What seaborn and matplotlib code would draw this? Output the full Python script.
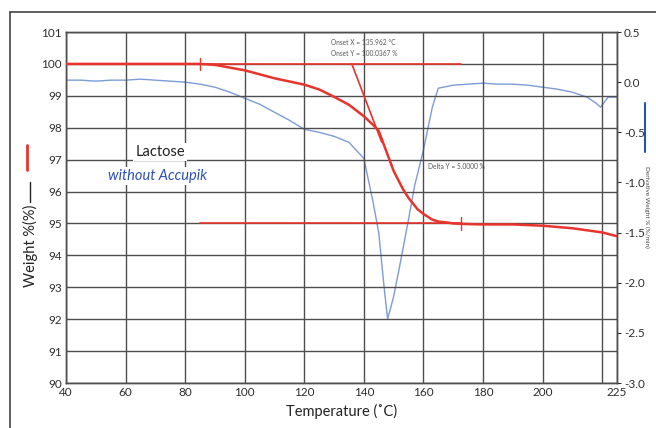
import matplotlib
matplotlib.use("Agg")
import matplotlib.pyplot as plt
import pandas as pd
import seaborn as sns
from matplotlib.lines import Line2D

# weight curve (left axis)
weight_temp = [40, 60, 80, 85, 90, 100, 110, 120, 125, 130, 135, 140, 143, 145, 147, 150,
               153, 155, 158, 160, 163, 165, 168, 170, 175, 180, 190, 200, 210, 220, 225]
weight_pct = [100.0, 100.0, 100.0, 100.0, 99.97, 99.8, 99.55, 99.35, 99.2, 98.97, 98.72, 98.36,
              98.1, 97.9, 97.4, 96.65, 96.1, 95.8, 95.45, 95.3, 95.12, 95.06, 95.03, 95.0,
              94.98, 94.97, 94.97, 94.93, 94.85, 94.72, 94.6]

# derivative curve (right axis)
deriv_temp = [40, 45, 50, 55, 60, 65, 70, 75, 80, 85, 90, 95, 100, 105, 110, 115, 120, 125,
              130, 135, 140, 143, 145, 147, 148, 150, 152, 155, 157, 160, 163, 165, 170, 175,
              180, 185, 190, 195, 200, 205, 210, 215, 218, 219.5, 222, 225]
deriv_val = [0.02, 0.02, 0.01, 0.02, 0.02, 0.03, 0.02, 0.01, 0.0, -0.02, -0.05, -0.1, -0.16,
             -0.22, -0.3, -0.38, -0.47, -0.5, -0.54, -0.6, -0.76, -1.18, -1.5, -2.1, -2.36,
             -2.14, -1.84, -1.37, -1.04, -0.68, -0.25, -0.06, -0.03, -0.02, -0.01, -0.02, -0.02,
             -0.03, -0.05, -0.07, -0.1, -0.15, -0.21, -0.25, -0.15, -0.15]

# onset construction lines
onset_x = 135.962
upper_base_temp = [85, 172.6]
upper_base_val = [100.0, 100.0]
lower_base_temp = [85, 172.6]
lower_base_val = [95.0, 95.0]
tangent_temp = [onset_x, 146.0]
tangent_val = [100.0, 97.55]

x_ticks = [40, 60, 80, 100, 120, 140, 160, 180, 200, 220, 225]
x_labels = ["40", "60", "80", "100", "120", "140", "160", "180", "200", "", "225"]
left_ticks = list(range(90, 102))
right_ticks = [0.5, 0.0, -0.5, -1.0, -1.5, -2.0, -2.5, -3.0]

RED = "#e8342c"
BLUE = "#7d9bd6"
DARK_BLUE = "#2b50b3"
GRID = "#4e4e4e"
TXT = "#2e2e2e"

sns.set_theme(style="whitegrid")
plt.rcParams["font.family"] = ["Lato", "DejaVu Sans"]

fig = plt.figure(figsize=(6.56, 4.28), dpi=100)
ax = fig.add_axes([0.1006, 0.1051, 0.8399, 0.8201])
ax2 = ax.twinx()

w_df = pd.DataFrame({"temp": weight_temp, "weight": weight_pct})
d_df = pd.DataFrame({"temp": deriv_temp, "deriv": deriv_val})

sns.lineplot(data=d_df, x="temp", y="deriv", color=BLUE, linewidth=1.0, ax=ax2, zorder=3)

sns.lineplot(x=upper_base_temp, y=upper_base_val, color=RED, linewidth=1.2, ax=ax, zorder=3)
sns.lineplot(x=lower_base_temp, y=lower_base_val, color=RED, linewidth=1.2, ax=ax, zorder=3)
sns.lineplot(x=tangent_temp, y=tangent_val, color=RED, linewidth=1.2, ax=ax, zorder=3)
sns.lineplot(data=w_df, x="temp", y="weight", color=RED, linewidth=1.8, ax=ax, zorder=4)
ax.plot([85, 85], [99.8, 100.2], color=RED, linewidth=1.0, zorder=4)
ax.plot([172.6, 172.6], [94.8, 95.2], color=RED, linewidth=1.0, zorder=4)

ax.set_xlim(40, 225)
ax.set_ylim(90, 101)
ax2.set_ylim(-3.0, 0.5)
ax.set_xticks(x_ticks)
ax.set_xticklabels(x_labels)
ax.set_yticks(left_ticks)
ax2.set_yticks(right_ticks)
ax2.set_yticklabels([f"{v:.1f}" for v in right_ticks])
ax2.grid(False)
ax.grid(True, color=GRID, linewidth=1.0)
ax.set_zorder(ax2.get_zorder() + 1)
ax.patch.set_visible(False)
ax2.patch.set_visible(True)
ax2.patch.set_facecolor("white")

for a in (ax, ax2):
    for s in a.spines.values():
        s.set_color(GRID)
        s.set_linewidth(1.0)
ax.tick_params(axis="both", labelsize=8.5, colors=TXT, length=0, pad=3)
ax2.tick_params(axis="y", labelsize=8.5, colors=TXT, length=3, width=0.8, direction="out", pad=2)
ax.set_xlabel("Temperature (˚C)", fontsize=10.5, color="#222222", labelpad=4)
ax.set_ylabel("")
ax2.set_ylabel("")

ax.text(71.6, 97.25, "Lactose", fontsize=10.5, color="#222222", ha="center", va="center",
        bbox={"facecolor": "white", "edgecolor": "none", "pad": 1.5}, zorder=6)
ax.text(70.8, 96.5, "without Accupik", fontsize=10.5, color=DARK_BLUE, style="italic",
        ha="center", va="center", bbox={"facecolor": "white", "edgecolor": "none", "pad": 1.5}, zorder=6)
ax.text(129.1, 100.66, "Onset X = 135.962 °C", fontsize=4.8, color="#555555", va="center", zorder=6)
ax.text(129.1, 100.34, "Onset Y = 100.0367 %", fontsize=4.8, color="#555555", va="center", zorder=6)
ax.text(161.5, 96.8, "Delta Y = 5.0000 %", fontsize=4.8, color="#555555", va="center", zorder=6)

# left label with line keys
fig.text(30 / 656, 1 - 246 / 428, "Weight %(%)", rotation=90, fontsize=10.5, color="#222222",
         ha="center", va="center")
fig.add_artist(Line2D([30 / 656, 30 / 656], [1 - 202 / 428, 1 - 182 / 428], color="#222222", linewidth=1.0))
fig.add_artist(Line2D([27 / 656, 27 / 656], [1 - 170 / 428, 1 - 145 / 428], color=RED, linewidth=2.0))

# right label with line key
fig.text(647 / 656, 1 - 207 / 428, "Derivative Weight % (%/min)", rotation=-90, fontsize=4.6,
         color="#444444", ha="center", va="center")
fig.add_artist(Line2D([645 / 656, 645 / 656], [1 - 152 / 428, 1 - 103 / 428], color=DARK_BLUE, linewidth=1.5))

# outer frame
fig.add_artist(Line2D([10 / 656, 10 / 656], [0, 1 - 12 / 428], color="#444444", linewidth=1.2))
fig.add_artist(Line2D([10 / 656, 1], [1 - 12 / 428, 1 - 12 / 428], color="#444444", linewidth=1.2))

fig.savefig("out.png", dpi=100)
